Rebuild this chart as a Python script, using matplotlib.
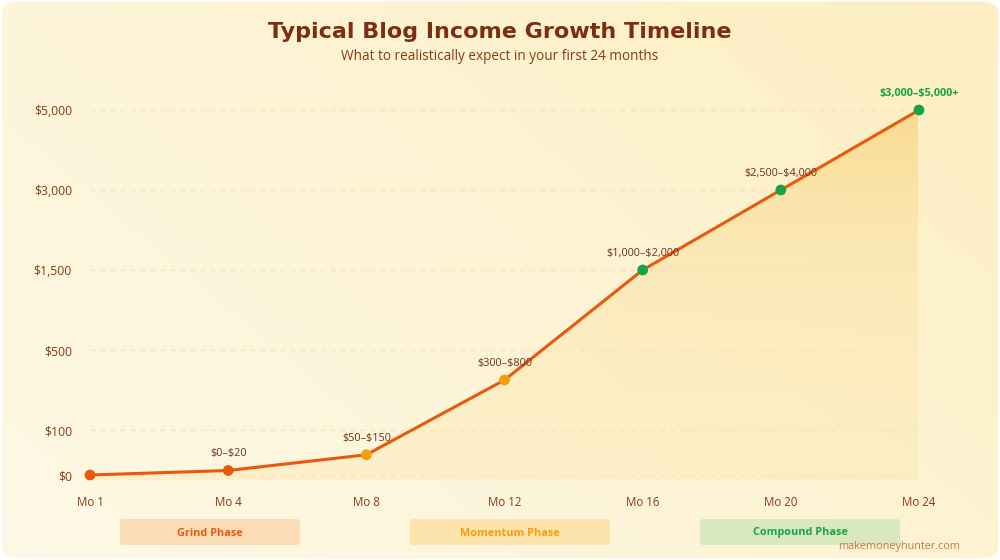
import numpy as np
import matplotlib.pyplot as plt
from matplotlib.patches import FancyBboxPatch
from matplotlib.colors import LinearSegmentedColormap

plt.rcParams["text.parse_math"] = False

months = ["Mo 1", "Mo 4", "Mo 8", "Mo 12", "Mo 16", "Mo 20", "Mo 24"]
income = [0, 10, 45, 350, 1500, 3000, 5000]
labels = ["", "$0–$20", "$50–$150", "$300–$800", "$1,000–$2,000", "$2,500–$4,000", "$3,000–$5,000+"]
tick_vals = [0, 100, 500, 1500, 3000, 5000]
tick_text = ["$0", "$100", "$500", "$1,500", "$3,000", "$5,000"]
phases = ["Grind Phase", "Momentum Phase", "Compound Phase"]

BODY = "Open Sans"
ORANGE = "#e8590c"
AMBER = "#f59e0b"
GREEN = "#16a34a"
BROWN = "#7c2d12"

# custom y scale: evenly spaced ticks above $100
knots_d = np.array([-1000, 0, 100, 500, 1500, 3000, 5000, 9000])
knots_p = np.array([-450, 0, 45, 125, 205, 285, 365, 525])


def fwd(v):
    return np.interp(v, knots_d, knots_p)


def inv(p):
    return np.interp(p, knots_p, knots_d)


fig = plt.figure(figsize=(10, 5.6), dpi=100)
fig.patch.set_facecolor("white")

# background card with gradient
bg = fig.add_axes([0, 0, 1, 1], zorder=0)
bg.set_xlim(0, 1)
bg.set_ylim(0, 1)
bg.axis("off")
bg_cmap = LinearSegmentedColormap.from_list("bg", ["#fef9e6", "#fdf4d6", "#fdefc2"])
gx, gy = np.meshgrid(np.linspace(0, 1, 200), np.linspace(0, 1, 200))
grad = (gx * 0.6 + gy * 0.4)
im = bg.imshow(grad, extent=[0, 1, 1, 0], cmap=bg_cmap, aspect="auto", origin="upper")
card = FancyBboxPatch((0.002, 0.003), 0.996, 0.994, boxstyle="round,pad=0,rounding_size=0.018",
                      transform=bg.transAxes, facecolor="none", edgecolor="none")
bg.add_patch(card)
im.set_clip_path(card)

# main axes: x from px 90 to 919, y from px 100 to 485
ax = fig.add_axes([0.09, (560 - 485) / 560, 0.829, 385 / 560], zorder=1)
ax.patch.set_alpha(0)
ax.set_yscale("function", functions=(fwd, inv))
x = np.arange(len(months))
ax.set_xlim(0, len(months) - 1)
ax.set_ylim(inv(-10), inv(375))

for v in tick_vals:
    ax.axhline(v, color="#f5e2b8", lw=0.9, ls=(0, (4, 4)), zorder=2.5)

# vertical gradient fill under the line
fill = ax.fill_between(x, income, inv(-5), color="none", lw=0)
fill_cmap = LinearSegmentedColormap.from_list(
    "fill", [(0.99, 0.91, 0.70, 0.45), (0.975, 0.84, 0.53, 0.85)])
fy = np.linspace(0, 1, 256).reshape(-1, 1)
ylo, yhi = ax.get_ylim()
fim = ax.imshow(fy, extent=[0, 6, inv(-5), inv(365)], origin="lower", cmap=fill_cmap,
                aspect="auto", zorder=2)
fim.set_clip_path(fill.get_paths()[0], transform=ax.transData)
ax.set_ylim(ylo, yhi)
ax.set_xlim(0, 6)

ax.plot(x, income, color=ORANGE, lw=2.2, zorder=3, clip_on=False)
point_colors = [ORANGE, ORANGE, AMBER, AMBER, GREEN, GREEN, GREEN]
ax.scatter(x, income, s=60, c=point_colors, zorder=4, clip_on=False, linewidths=0)

for i, (xi, yi, lab) in enumerate(zip(x, income, labels)):
    if not lab:
        continue
    last = i == len(labels) - 1
    ax.annotate(lab, (xi, yi), xytext=(0, 8), textcoords="offset points",
                ha="center", va="bottom", fontsize=7.8,
                color=GREEN if last else "#6b3416", family=BODY,
                fontweight="bold" if last else "normal", zorder=5)

ax.set_xticks(x)
ax.set_xticklabels(months, fontsize=8.3, color="#8a3a14", family=BODY)
ax.set_yticks(tick_vals)
ax.set_yticklabels(tick_text, fontsize=8.8, color="#8a3a14", family=BODY)
ax.tick_params(axis="both", length=0)
ax.tick_params(axis="x", pad=8)
ax.tick_params(axis="y", pad=13)
for s in ax.spines.values():
    s.set_visible(False)
ax.minorticks_off()

fig.text(0.5, 1 - 32 / 560, "Typical Blog Income Growth Timeline", ha="center", va="center",
         fontsize=16, fontweight="bold", color=BROWN, family="DejaVu Sans")
fig.text(0.5, 1 - 57 / 560, "What to realistically expect in your first 24 months", ha="center",
         va="center", fontsize=9.8, color="#8a3a12", family=BODY)

# phase boxes
phase_x = [(120, 300), (410, 610), (700, 900)]
phase_fill = ["#fadcb7", "#fde4ad", "#d9e8bd"]
phase_text = [ORANGE, AMBER, GREEN]
for name, (x0, x1), fc, tc in zip(phases, phase_x, phase_fill, phase_text):
    box = FancyBboxPatch((x0 / 1000, (560 - 545) / 560), (x1 - x0) / 1000, 26 / 560,
                         boxstyle="round,pad=0,rounding_size=0.004", transform=fig.transFigure,
                         facecolor=fc, edgecolor="none", zorder=2)
    fig.patches.append(box)
    fig.text((x0 + x1) / 2000, (560 - 533) / 560, name, ha="center", va="center",
             fontsize=7.8, fontweight="bold", color=tc, family=BODY, zorder=3)

fig.text(0.96, (560 - 546) / 560, "makemoneyhunter.com", ha="right", va="center",
         fontsize=7.8, color="#c47a45", family=BODY)

fig.savefig("out.png", dpi=100)
